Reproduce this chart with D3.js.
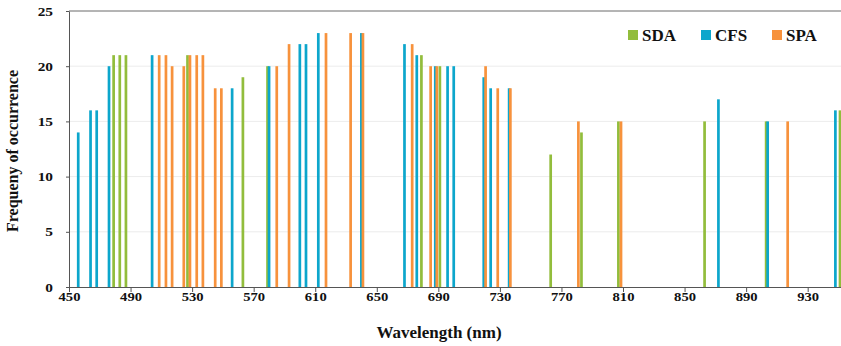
<!DOCTYPE html>
<html>
<head>
<meta charset="utf-8">
<script src="https://cdn.jsdelivr.net/npm/d3@7"></script>
<style>
  html, body { margin: 0; padding: 0; background: #fff; }
  svg { display: block; }
  text { font-family: "Liberation Serif", "Times New Roman", serif; font-weight: bold; fill: #111; }
</style>
</head>
<body>
<svg id="chart" width="841" height="346"></svg>
<script>
// ---- Data ----
const seriesNames = ["SDA", "CFS", "SPA"];
const seriesColors = ["#92bd3c", "#0ca6cc", "#f7923c"];

const sdaWavelength = [479, 483, 487, 527, 563, 579, 679, 691, 763, 783, 807, 863, 903, 951];
const sdaFrequency  = [21, 21, 21, 21, 19, 20, 21, 20, 12, 14, 15, 15, 15, 16];

const cfsWavelength = [456, 464, 468, 476, 504, 556, 580, 600, 604, 612, 640, 668, 676, 688, 696, 700, 719.5, 724, 736, 872, 904, 948];
const cfsFrequency  = [14, 16, 16, 20, 21, 18, 20, 22, 22, 23, 23, 22, 21, 20, 20, 20, 19, 18, 18, 17, 15, 16];

const spaWavelength = [508.6, 513, 517, 524.6, 528.6, 533, 537, 545, 549, 585, 593, 617, 633, 641, 673, 685, 689, 720.7, 728.6, 736.8, 781, 808.7, 917];
const spaFrequency  = [21, 21, 20, 20, 21, 21, 21, 18, 18, 20, 22, 23, 23, 23, 22, 20, 20, 20, 18, 18, 15, 15, 15];

const xTickValues = [450, 490, 530, 570, 610, 650, 690, 730, 770, 810, 850, 890, 930];
const yTickValues = [0, 5, 10, 15, 20, 25];
const xTitle = "Wavelength (nm)";
const yTitle = "Frequeny of occurrence";

(function () {
// ---- Layout ----
const W = 841, H = 346;
const mLeft = 69, mRight = 840, mTop = 11, mBottom = 287;

const svg = d3.select("#chart");

const x = d3.scaleLinear().domain([450, 951]).range([mLeft, mRight]);
const y = d3.scaleLinear().domain([0, 25]).range([mBottom, mTop]);

// gridlines
svg.append("g")
  .selectAll("line")
  .data(yTickValues.filter(v => v > 0 && v < 25))
  .join("line")
  .attr("x1", mLeft).attr("x2", W)
  .attr("y1", d => y(d)).attr("y2", d => y(d))
  .attr("stroke", "#ececec").attr("stroke-width", 1);

// top frame line
svg.append("line")
  .attr("x1", mLeft).attr("x2", W)
  .attr("y1", y(25)).attr("y2", y(25))
  .attr("stroke", "#6b6b6b").attr("stroke-width", 1);

// bars
const series = [
  { name: seriesNames[0], color: seriesColors[0], xs: sdaWavelength, ys: sdaFrequency },
  { name: seriesNames[1], color: seriesColors[1], xs: cfsWavelength, ys: cfsFrequency },
  { name: seriesNames[2], color: seriesColors[2], xs: spaWavelength, ys: spaFrequency }
];
const barW = 2.7;
series.forEach(s => {
  svg.append("g")
    .selectAll("rect")
    .data(s.xs.map((w, i) => ({ w, v: s.ys[i] })))
    .join("rect")
    .attr("x", d => x(d.w) - barW / 2)
    .attr("width", barW)
    .attr("y", d => y(d.v))
    .attr("height", d => y(0) - y(d.v))
    .attr("fill", s.color);
});

// x axis
const xSx = 1.22;
const xAxis = svg.append("g")
  .attr("transform", `translate(0,${mBottom})`)
  .call(d3.axisBottom(x).tickValues(xTickValues).tickSize(5).tickSizeOuter(0).tickFormat(d3.format("d")));
xAxis.select(".domain").attr("stroke", "#555").attr("d", `M${mLeft},0.5H${W}`);
xAxis.selectAll(".tick line").attr("stroke", "#555");
xAxis.selectAll(".tick text")
  .attr("dy", null).attr("y", 14.5)
  .attr("transform", `scale(${xSx},1)`)
  .style("font-size", "12px").style("font-family", "Liberation Serif, serif").style("font-weight", "bold").attr("fill", "#111");

// y axis
const ySx = 1.18;
const yAxis = svg.append("g")
  .attr("transform", `translate(${mLeft},0)`)
  .call(d3.axisLeft(y).tickValues(yTickValues).tickSize(3).tickSizeOuter(0));
yAxis.select(".domain").attr("stroke", "#555");
yAxis.selectAll(".tick line").attr("stroke", "#555");
yAxis.selectAll(".tick text")
  .attr("x", -16 / ySx)
  .attr("transform", `scale(${ySx},1)`)
  .style("font-size", "13px").style("font-family", "Liberation Serif, serif").style("font-weight", "bold").attr("fill", "#111");

// axis titles
svg.append("text")
  .attr("x", 439).attr("y", 338)
  .attr("text-anchor", "middle")
  .style("font-size", "17px")
  .text(xTitle);

svg.append("text")
  .attr("transform", `translate(18,151) rotate(-90)`)
  .attr("text-anchor", "middle")
  .style("font-size", "16px")
  .text(yTitle);

// legend
const legendX = [628, 701, 772];
const lg = svg.append("g");
series.forEach((s, i) => {
  lg.append("rect")
    .attr("x", legendX[i]).attr("y", 30)
    .attr("width", 10).attr("height", 10)
    .attr("fill", s.color);
  lg.append("text")
    .attr("x", legendX[i] + 14).attr("y", 40.5)
    .style("font-size", "17px")
    .text(s.name);
});
})();
</script>
</body>
</html>
